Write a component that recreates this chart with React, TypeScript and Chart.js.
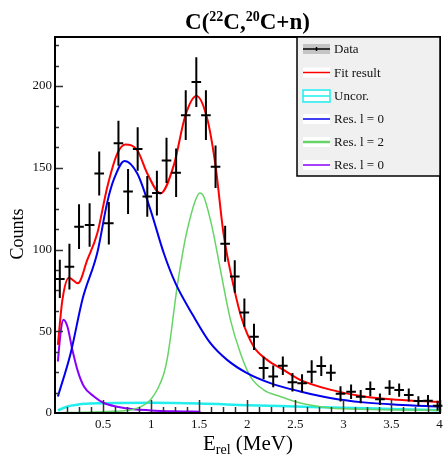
import React, { useEffect, useRef } from "react";
import { Chart, registerables } from "chart.js";
Chart.register(...registerables);

// ---- data points (histogram) ----
const DATA_X = [0.05, 0.15, 0.25, 0.36, 0.46, 0.56, 0.66, 0.76, 0.86, 0.96, 1.06, 1.16, 1.26, 1.36, 1.47, 1.57, 1.67, 1.77, 1.87, 1.97, 2.07, 2.17, 2.27, 2.37, 2.47, 2.57, 2.67, 2.77, 2.87, 2.97, 3.08, 3.18, 3.28, 3.38, 3.48, 3.58, 3.68, 3.78, 3.88, 3.98];
const DATA_Y = [82, 89.5, 114, 115, 146.5, 116, 165, 135.5, 161.5, 132.5, 134.5, 154.5, 147, 182.2, 202.4, 182.2, 150.7, 103.5, 83.5, 61.4, 46.6, 27.5, 22.4, 28.9, 18.8, 18.2, 25.3, 28.7, 24.6, 11.7, 13, 10, 14.7, 8.4, 15.5, 14, 11, 7.3, 7.5, 4.5];
const DATA_ERR = [11.7, 14, 13.7, 13.3, 13.5, 13, 13.7, 13.7, 13.3, 12.4, 13.7, 13.8, 14.8, 15.2, 15.2, 15.2, 13, 11, 10, 8.6, 8, 6.9, 6.6, 5.6, 5.6, 5.5, 7, 6, 5, 4.6, 4.5, 4, 4.5, 3.5, 4.5, 4, 4, 3, 3.5, 3];
const DATA_XERR = 0.05;

// ---- curves ----
const FIT_X = [0.03, 0.077, 0.145, 0.239, 0.336, 0.44, 0.544, 0.648, 0.734, 0.856, 0.96, 1.098, 1.236, 1.357, 1.471, 1.583, 1.669, 1.755, 1.859, 1.946, 2.066, 2.206, 2.378, 2.551, 2.862, 3.209, 3.556, 4.005];
const FIT_Y = [41.7, 69.2, 82.8, 79.4, 93.6, 109.9, 138.3, 158.7, 164.2, 160.7, 146.5, 134.3, 151.6, 182.1, 193.9, 180.1, 151.6, 108.9, 77.3, 57, 40.7, 32.5, 26.4, 20.3, 14.3, 10.1, 8.1, 6.7];

const BLUE_X = [0.03, 0.163, 0.288, 0.44, 0.544, 0.613, 0.724, 0.856, 0.994, 1.132, 1.253, 1.443, 1.617, 1.79, 1.998, 2.24, 2.551, 2.862, 3.209, 3.556, 4.005];
const BLUE_Y = [10.1, 36.6, 70, 98, 129, 143, 154.2, 146.5, 124.1, 97.7, 79.4, 59, 42.7, 32.5, 24.4, 18.3, 13.2, 9.2, 6.5, 5.1, 4.0];

const GREEN_X = [0.03, 0.3, 0.6, 0.8, 0.9, 0.994, 1.07, 1.132, 1.167, 1.201, 1.236, 1.27, 1.305, 1.357, 1.409, 1.46, 1.506, 1.55, 1.617, 1.651, 1.721, 1.825, 1.929, 2.033, 2.17, 2.343, 2.551, 2.862, 3.3, 4.005];
const GREEN_Y = [0.2, 0.4, 1, 2, 4, 8.1, 15, 24, 33, 46, 62, 77, 90, 107, 120, 130, 134.5, 132, 118, 109, 87.5, 57, 36.6, 22.3, 14.2, 10.1, 6.1, 3.1, 2.2, 1.6];

const PURPLE_X = [0.03, 0.06, 0.087, 0.129, 0.181, 0.233, 0.301, 0.405, 0.509, 0.717, 0.994, 1.253, 1.513];
const PURPLE_Y = [31.5, 50, 57, 52.9, 38.6, 26.4, 16.2, 10.1, 6.1, 3.1, 1.6, 1, 0.8];

const CYAN_X = [0.03, 0.129, 0.2, 0.301, 0.5, 1.0, 1.5, 2.0, 2.5, 3.0, 3.5, 4.005];
const CYAN_Y = [1.6, 4, 4.8, 5.6, 6, 6.2, 5.8, 4.8, 4, 3.2, 2.5, 1.7];

// ---- axes ----
const X_TICKS = [0.5, 1, 1.5, 2, 2.5, 3, 3.5, 4];
const Y_TICKS = [0, 50, 100, 150, 200];
const X_MIN = 0;
const X_MAX = 4.005;
const Y_MIN = 0;
const Y_MAX = 230;

const LEGEND_LABELS = ["Data", "Fit result", "Uncor.", "Res. l = 0", "Res. l = 2", "Res. l = 0"];

const COLORS = {
  red: "#ff0000",
  blue: "#0000ee",
  green: "#66d466",
  purple: "#8a00ff",
  cyan: "#22eeee",
};

const SERIF = "'Liberation Serif', 'Times New Roman', serif";

function pts(xs: number[], ys: number[]) {
  return xs.map((x, i) => ({ x, y: ys[i] }));
}

function drawRich(ctx: CanvasRenderingContext2D, parts: { t: string; font: string; dy: number }[], cx: number, baseline: number) {
  let total = 0;
  const widths = parts.map((p) => {
    ctx.font = p.font;
    const w = ctx.measureText(p.t).width;
    total += w;
    return w;
  });
  let x = cx - total / 2;
  ctx.textAlign = "left";
  ctx.textBaseline = "alphabetic";
  parts.forEach((p, i) => {
    ctx.font = p.font;
    ctx.fillText(p.t, x, baseline + p.dy);
    x += widths[i];
  });
}

const errorBarPlugin = {
  id: "errorBars",
  afterDatasetsDraw(chart: any) {
    const { ctx, scales } = chart;
    const xs = scales.x;
    const ys = scales.y;
    ctx.save();
    ctx.strokeStyle = "#000";
    ctx.lineWidth = 2;
    DATA_X.forEach((xv, i) => {
      const px = xs.getPixelForValue(xv);
      const py = ys.getPixelForValue(DATA_Y[i]);
      const x1 = xs.getPixelForValue(xv - DATA_XERR);
      const x2 = xs.getPixelForValue(xv + DATA_XERR);
      const y1 = ys.getPixelForValue(DATA_Y[i] - DATA_ERR[i]);
      const y2 = ys.getPixelForValue(DATA_Y[i] + DATA_ERR[i]);
      ctx.beginPath();
      ctx.moveTo(x1, py);
      ctx.lineTo(x2, py);
      ctx.moveTo(px, y1);
      ctx.lineTo(px, y2);
      ctx.stroke();
    });
    ctx.restore();
  },
};

const framePlugin = {
  id: "frame",
  afterDraw(chart: any) {
    const { ctx, chartArea: a, scales } = chart;
    const xs = scales.x;
    const ys = scales.y;
    ctx.save();
    ctx.strokeStyle = "#333";
    ctx.lineWidth = 1.5;
    ctx.beginPath();
    for (let i = 1; i <= 32; i++) {
      const v = i * 0.125;
      if (v > X_MAX) break;
      const px = Math.round(xs.getPixelForValue(v)) + 0.5;
      const len = i % 4 === 0 ? 13 : 6;
      ctx.moveTo(px, a.bottom);
      ctx.lineTo(px, a.bottom - len);
    }
    for (let i = 1; i * 12.5 < Y_MAX; i++) {
      const v = i * 12.5;
      const py = Math.round(ys.getPixelForValue(v)) + 0.5;
      const len = i % 4 === 0 ? 8 : 4;
      ctx.moveTo(a.left, py);
      ctx.lineTo(a.left + len, py);
    }
    ctx.stroke();
    ctx.strokeStyle = "#000";
    ctx.lineWidth = 2;
    ctx.strokeRect(a.left, a.top, a.right - a.left, a.bottom - a.top);

    // legend
    const lx = 297, ly = a.top, lw = a.right - 297, lh = 139;
    ctx.fillStyle = "#f0f0f0";
    ctx.fillRect(lx, ly, lw, lh);
    ctx.lineWidth = 1.5;
    ctx.strokeStyle = "#000";
    ctx.strokeRect(lx, ly, lw, lh);
    const rowY = [49, 72.5, 96, 119, 142, 165];
    const sx = 303, sw = 27, sh = 10;
    LEGEND_LABELS.forEach((lab, i) => {
      const cy = rowY[i];
      if (i === 0) {
        ctx.fillStyle = "#c4c4c4";
        ctx.fillRect(sx, cy - sh / 2, sw, sh);
        ctx.strokeStyle = "#000";
        ctx.lineWidth = 1.5;
        ctx.beginPath();
        ctx.moveTo(sx, cy);
        ctx.lineTo(sx + sw, cy);
        ctx.moveTo(sx + sw / 2, cy - 2);
        ctx.lineTo(sx + sw / 2, cy + 2);
        ctx.stroke();
      } else {
        ctx.fillStyle = "#ffffff";
        ctx.fillRect(sx, cy - sh / 2, sw, sh);
        const col = [COLORS.red, COLORS.red, COLORS.cyan, COLORS.blue, COLORS.green, COLORS.purple][i];
        ctx.strokeStyle = col;
        if (i === 2) {
          ctx.lineWidth = 1.5;
          ctx.strokeRect(sx, cy - sh / 2 - 1, sw, sh + 2);
        }
        ctx.lineWidth = i === 4 ? 2.5 : 1.5;
        ctx.beginPath();
        ctx.moveTo(sx, cy);
        ctx.lineTo(sx + sw, cy);
        ctx.stroke();
      }
      ctx.fillStyle = "#111";
      ctx.font = `13px ${SERIF}`;
      ctx.textAlign = "left";
      ctx.textBaseline = "middle";
      ctx.fillText(lab, 334, cy + 1);
    });

    // titles
    ctx.fillStyle = "#000";
    const big = `bold 23px ${SERIF}`;
    const sup = `bold 14px ${SERIF}`;
    drawRich(ctx, [
      { t: "C(", font: big, dy: 0 },
      { t: "22", font: sup, dy: -8 },
      { t: "C,", font: big, dy: 0 },
      { t: "20", font: sup, dy: -8 },
      { t: "C+n)", font: big, dy: 0 },
    ], (a.left + a.right) / 2, 29);

    drawRich(ctx, [
      { t: "E", font: `21px ${SERIF}`, dy: 0 },
      { t: "rel", font: `14px ${SERIF}`, dy: 4 },
      { t: " (MeV)", font: `21px ${SERIF}`, dy: 0 },
    ], 248, 450);

    ctx.save();
    ctx.translate(23, 234);
    ctx.rotate(-Math.PI / 2);
    ctx.font = `18px ${SERIF}`;
    ctx.textAlign = "center";
    ctx.textBaseline = "alphabetic";
    ctx.fillText("Counts", 0, 0);
    ctx.restore();

    ctx.restore();
  },
};

export default function App() {
  const ref = useRef<HTMLCanvasElement>(null);
  useEffect(() => {
    document.body.style.margin = "0";
    const canvas = ref.current!;
    const lineDs = (label: string, xs: number[], ys: number[], color: string, width: number) => ({
      label,
      data: pts(xs, ys),
      borderColor: color,
      backgroundColor: color,
      borderWidth: width,
      pointRadius: 0,
      showLine: true,
      fill: false,
      cubicInterpolationMode: "monotone" as const,
    });
    const chart = new Chart(canvas, {
      type: "scatter",
      data: {
        datasets: [
          lineDs("Fit result", FIT_X, FIT_Y, COLORS.red, 2),
          lineDs("Res. l = 0", BLUE_X, BLUE_Y, COLORS.blue, 2),
          lineDs("Res. l = 2", GREEN_X, GREEN_Y, COLORS.green, 1.5),
          lineDs("Res. l = 0 (2)", PURPLE_X, PURPLE_Y, COLORS.purple, 2),
          lineDs("Uncor.", CYAN_X, CYAN_Y, COLORS.cyan, 2.5),
          {
            label: "Data",
            data: pts(DATA_X, DATA_Y),
            pointRadius: 0,
            showLine: false,
            borderColor: "#000",
          },
        ],
      },
      options: {
        animation: false,
        responsive: false,
        events: [],
        layout: { padding: { left: 0, right: 3, top: 37, bottom: 0 } },
        plugins: { legend: { display: false }, tooltip: { enabled: false }, title: { display: false } },
        scales: {
          x: {
            type: "linear",
            min: X_MIN,
            max: X_MAX,
            grid: { display: false, drawTicks: false, tickLength: 0 },
            border: { display: false },
            afterBuildTicks: (s: any) => { s.ticks = X_TICKS.map((v) => ({ value: v })); },
            afterFit: (s: any) => { s.height = 42; s.paddingLeft = 0; s.paddingRight = 0; },
            ticks: {
              autoSkip: false,
              maxRotation: 0,
              padding: 4,
              color: "#111",
              font: { family: SERIF, size: 13 },
              callback: (v: any) => String(v),
            },
          },
          y: {
            type: "linear",
            min: Y_MIN,
            max: Y_MAX,
            grid: { display: false, drawTicks: false, tickLength: 0 },
            border: { display: false },
            afterBuildTicks: (s: any) => { s.ticks = Y_TICKS.map((v) => ({ value: v })); },
            afterFit: (s: any) => { s.width = 55; s.paddingTop = 0; s.paddingBottom = 0; },
            ticks: {
              autoSkip: false,
              padding: 3,
              color: "#111",
              font: { family: SERIF, size: 13 },
              callback: (v: any) => String(v),
            },
          },
        },
      },
      plugins: [errorBarPlugin, framePlugin],
    });
    return () => chart.destroy();
  }, []);
  return (
    <div style={{ width: 443, height: 455 }}>
      <canvas ref={ref} width={443} height={455} style={{ display: "block" }} />
    </div>
  );
}
